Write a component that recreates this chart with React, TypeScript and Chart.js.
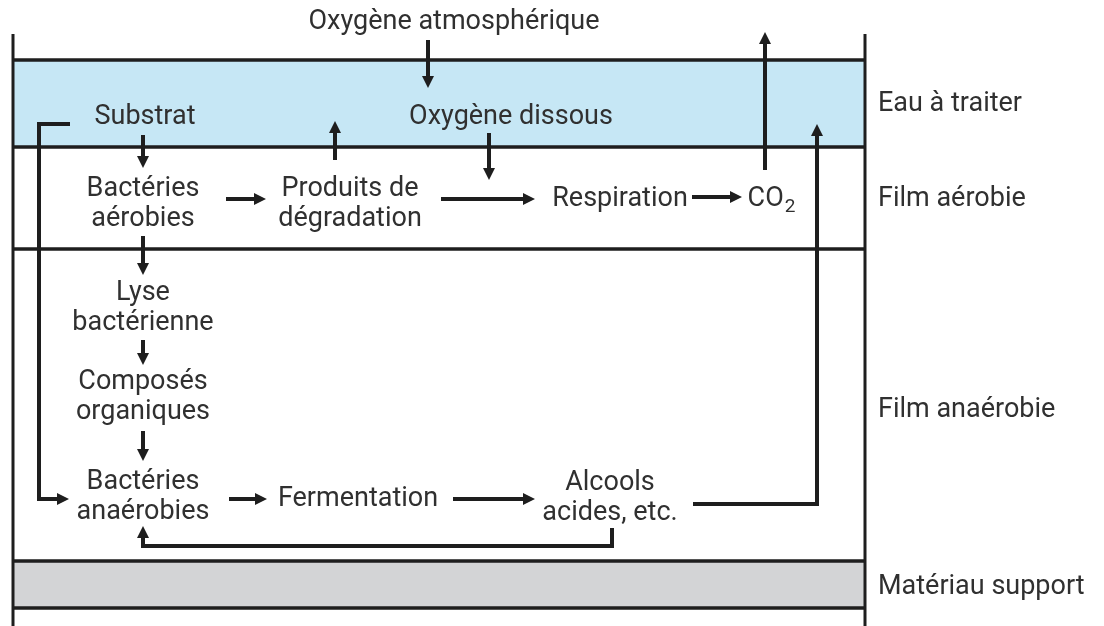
import React, { useEffect, useRef } from "react";
import { Chart, registerables } from "chart.js";

Chart.register(...registerables);

// ---- Diagram data (in diagram units: x 0..1104, y 0..626 downward) ----
const frameX = [13, 865];
const frameY = [34, 626];
const layerEdges = [60, 147, 249, 561, 608];
const layerNames = ["Eau à traiter", "Film aérobie", "Film anaérobie", "Matériau support"];
const layerLabelX = 878;
const layerLabelY = [102, 197, 408, 585];
const shadedLayers = [0, 3];

const nodeLabels = [
  "Oxygène atmosphérique",
  "Substrat",
  "Oxygène dissous",
  "Bactéries\naérobies",
  "Produits de\ndégradation",
  "Respiration",
  "CO_2",
  "Lyse\nbactérienne",
  "Composés\norganiques",
  "Bactéries\nanaérobies",
  "Fermentation",
  "Alcools\nacides, etc.",
];
const nodeX = [454, 145, 511, 143, 350, 620, 771, 143, 143, 143, 358, 610];
const nodeY = [20, 115, 115, 202, 202, 197, 197, 306, 395, 495, 497, 496];

const arrowPaths: number[][][] = [
  [[428, 40], [428, 84]],
  [[143, 135], [143, 164]],
  [[335, 160], [335, 125]],
  [[489, 133], [489, 176]],
  [[226, 199], [262, 199]],
  [[441, 199], [531, 199]],
  [[692, 197], [738, 197]],
  [[765, 170], [765, 36]],
  [[143, 236], [143, 271]],
  [[143, 340], [143, 361]],
  [[143, 431], [143, 457]],
  [[70, 124], [39, 124], [39, 499], [65, 499]],
  [[229, 499], [263, 499]],
  [[453, 499], [531, 499]],
  [[693, 504], [817, 504], [817, 128]],
  [[612, 528], [612, 546], [143, 546], [143, 530]],
];

// ---- Styles ----
const LINE_COLOR = "#1e1e1e";
const TEXT_COLOR = "#303030";
const SHADE_COLORS = ["#c6e7f5", "#d3d4d6"];
const FONT_SIZE = 27;
const FONT_FAMILY = "Roboto, 'Liberation Sans', Arial, sans-serif";
const LINE_HEIGHT = 30;
const TEXT_DY = 2;
const HEAD_LEN = 12;
const HEAD_W = 12;

const diagramPlugin = {
  id: "diagram",
  beforeDatasetsDraw(chart: any) {
    const { ctx, scales } = chart;
    const xs = scales.x;
    const ys = scales.y;
    ctx.save();
    shadedLayers.forEach((li: number, k: number) => {
      const x0 = xs.getPixelForValue(frameX[0]);
      const x1 = xs.getPixelForValue(frameX[1]);
      const y0 = ys.getPixelForValue(layerEdges[li]);
      const y1 = ys.getPixelForValue(layerEdges[li + 1]);
      ctx.fillStyle = SHADE_COLORS[k];
      ctx.fillRect(x0, y0, x1 - x0, y1 - y0);
    });
    ctx.restore();
  },
  afterDatasetsDraw(chart: any) {
    const { ctx, scales } = chart;
    const xs = scales.x;
    const ys = scales.y;
    ctx.save();
    // arrow heads
    ctx.fillStyle = LINE_COLOR;
    arrowPaths.forEach((path) => {
      const a = path[path.length - 2];
      const b = path[path.length - 1];
      const ax = xs.getPixelForValue(a[0]);
      const ay = ys.getPixelForValue(a[1]);
      const bx = xs.getPixelForValue(b[0]);
      const by = ys.getPixelForValue(b[1]);
      const len = Math.hypot(bx - ax, by - ay) || 1;
      const dx = (bx - ax) / len;
      const dy = (by - ay) / len;
      const tx = bx + dx * 4;
      const ty = by + dy * 4;
      const baseX = tx - dx * HEAD_LEN;
      const baseY = ty - dy * HEAD_LEN;
      const nx = -dy;
      const ny = dx;
      ctx.beginPath();
      ctx.moveTo(tx, ty);
      ctx.lineTo(baseX + (nx * HEAD_W) / 2, baseY + (ny * HEAD_W) / 2);
      ctx.lineTo(baseX - (nx * HEAD_W) / 2, baseY - (ny * HEAD_W) / 2);
      ctx.closePath();
      ctx.fill();
    });
    // node labels
    ctx.fillStyle = TEXT_COLOR;
    ctx.font = `${FONT_SIZE}px ${FONT_FAMILY}`;
    ctx.textBaseline = "middle";
    nodeLabels.forEach((label, i) => {
      const px = xs.getPixelForValue(nodeX[i]);
      const py = ys.getPixelForValue(nodeY[i]) + TEXT_DY;
      if (label.includes("_")) {
        const [main, sub] = label.split("_");
        ctx.font = `${FONT_SIZE}px ${FONT_FAMILY}`;
        const wMain = ctx.measureText(main).width;
        ctx.font = `${Math.round(FONT_SIZE * 0.7)}px ${FONT_FAMILY}`;
        const wSub = ctx.measureText(sub).width;
        const start = px - (wMain + wSub) / 2;
        ctx.textAlign = "left";
        ctx.font = `${FONT_SIZE}px ${FONT_FAMILY}`;
        ctx.fillText(main, start, py);
        ctx.font = `${Math.round(FONT_SIZE * 0.7)}px ${FONT_FAMILY}`;
        ctx.fillText(sub, start + wMain + 1, py + 8);
        ctx.font = `${FONT_SIZE}px ${FONT_FAMILY}`;
        return;
      }
      const lines = label.split("\n");
      ctx.textAlign = "center";
      lines.forEach((ln, j) => {
        const off = (j - (lines.length - 1) / 2) * LINE_HEIGHT;
        ctx.fillText(ln, px, py + off);
      });
    });
    // layer labels
    ctx.textAlign = "left";
    layerNames.forEach((name, i) => {
      ctx.fillText(name, xs.getPixelForValue(layerLabelX), ys.getPixelForValue(layerLabelY[i]) + TEXT_DY);
    });
    ctx.restore();
  },
};

function lineDataset(points: number[][], width: number) {
  return {
    data: points.map(([x, y]) => ({ x, y })),
    showLine: true,
    borderColor: LINE_COLOR,
    backgroundColor: LINE_COLOR,
    borderWidth: width,
    pointRadius: 0,
    pointHoverRadius: 0,
    fill: false,
    tension: 0,
    borderCapStyle: "butt",
    borderJoinStyle: "miter",
  };
}

export default function App() {
  const canvasRef = useRef<HTMLCanvasElement | null>(null);

  useEffect(() => {
    if (!canvasRef.current) return;
    const datasets: any[] = [];
    frameX.forEach((fx) => datasets.push(lineDataset([[fx, frameY[0]], [fx, frameY[1]]], 3)));
    layerEdges.forEach((ly) => datasets.push(lineDataset([[frameX[0], ly], [frameX[1], ly]], 3.5)));
    arrowPaths.forEach((p) => datasets.push(lineDataset(p, 4)));

    const chart = new Chart(canvasRef.current, {
      type: "scatter",
      data: { datasets },
      options: {
        animation: false,
        responsive: true,
        maintainAspectRatio: false,
        layout: { padding: 0 },
        events: [],
        plugins: { legend: { display: false }, tooltip: { enabled: false } },
        scales: {
          x: { type: "linear", min: 0, max: 1104, display: false },
          y: { type: "linear", min: 0, max: 626, reverse: true, display: false },
        },
      } as any,
      plugins: [diagramPlugin as any],
    });
    return () => chart.destroy();
  }, []);

  return (
    <div style={{ position: "fixed", left: 0, top: 0, width: 1104, height: 626, background: "#ffffff" }}>
      <canvas ref={canvasRef} />
    </div>
  );
}
